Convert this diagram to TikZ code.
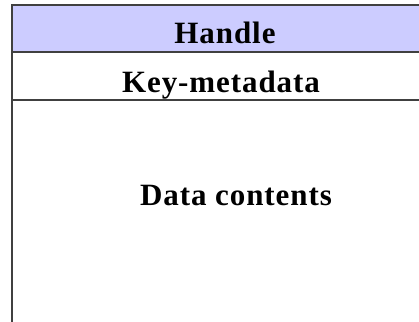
\documentclass[tikz,border=0pt]{standalone}
\usepackage{fontspec}
\setmainfont{Liberation Serif}
\newfontfamily\spacedserif[LetterSpace=3]{Liberation Serif}
\definecolor{lav}{HTML}{CCCCFF}
\definecolor{edge}{HTML}{404040}
\begin{document}
\begin{tikzpicture}[x=1pt,y=1pt,
  label/.style={font=\spacedserif\fontsize{31}{34}\selectfont\bfseries, anchor=base, inner sep=0pt},
  frame/.style={draw=edge, line width=2pt}]
\useasboundingbox (0,0) rectangle (419,-321);
\clip (0,0) rectangle (419,-321);
\fill[lav] (12,-5) rectangle (430,-52);
\draw[frame] (430,-5) -- (12,-5) -- (12,-340);
\draw[frame] (12,-52) -- (430,-52);
\draw[frame] (12,-100) -- (430,-100);
\node[label] (handle) at (225,-43) {Handle};
\node[label] (key) at (221,-92) {Key-metadata};
\node[label] (data) at (236,-205) {Data contents};
\end{tikzpicture}
\end{document}
